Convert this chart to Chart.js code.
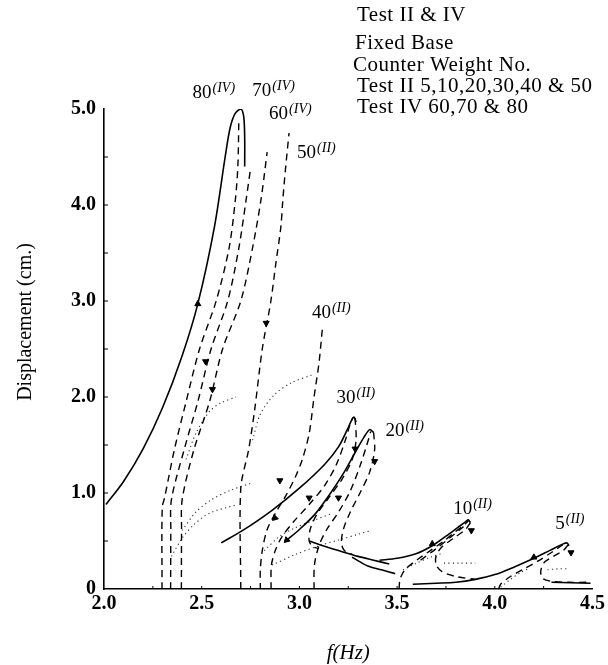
<!DOCTYPE html>
<html><head><meta charset="utf-8">
<script src="https://cdn.jsdelivr.net/npm/chart.js@4/dist/chart.umd.min.js"></script>
<style>html,body{margin:0;padding:0;background:#fff}#wrap{width:608px;height:665px;position:relative}</style>
</head><body><div id="wrap"><canvas id="c" width="608" height="665"></canvas></div>
<script>
// ---- axis ticks ----
const xTicks = [2.0, 2.5, 3.0, 3.5, 4.0, 4.5];
const yTicks = [0, 1, 2, 3, 4, 5];

// ---- solid curves (increasing-frequency response) [f, displacement] ----
const s80  = [[2.01,0.88],[2.1,1.12],[2.2,1.46],[2.3,1.89],[2.4,2.43],[2.48,2.97],[2.565,3.77],[2.62,4.5],[2.645,4.8],[2.67,4.95],[2.70,5.0],[2.715,4.92],[2.72,4.7],[2.72,4.4]];
const s30  = [[2.60,0.48],[2.71,0.61],[2.86,0.82],[3.0,1.05],[3.13,1.30],[3.2,1.48],[3.245,1.66],[3.27,1.77],[3.28,1.79],[3.29,1.74]];
const s20  = [[2.93,0.50],[3.0,0.62],[3.08,0.78],[3.16,1.0],[3.23,1.22],[3.29,1.44],[3.33,1.58],[3.36,1.66],[3.38,1.63]];
const sl30 = [[3.05,0.50],[3.12,0.45],[3.2,0.40],[3.3,0.34],[3.38,0.30],[3.46,0.26]];
const sl20 = [[3.27,0.33],[3.35,0.24],[3.42,0.20],[3.49,0.16]];
const s10  = [[3.41,0.30],[3.50,0.32],[3.60,0.37],[3.68,0.45],[3.75,0.55],[3.81,0.64],[3.85,0.70],[3.865,0.72],[3.875,0.69]];
const s5   = [[3.58,0.05],[3.7,0.06],[3.8,0.07],[3.9,0.10],[4.0,0.15],[4.1,0.23],[4.2,0.32],[4.28,0.40],[4.35,0.47],[4.37,0.48],[4.38,0.45]];
const sl5  = [[4.29,0.07],[4.49,0.06]];

// ---- dashed curves (jump / decreasing-frequency branches) ----
const d80  = [[2.297,0],[2.298,0.85],[2.31,0.95],[2.36,1.45],[2.42,1.95],[2.489,2.5],[2.574,3.0],[2.64,3.55],[2.672,4.05],[2.685,4.4],[2.69,4.88]];
const d70  = [[2.341,0],[2.342,0.6],[2.345,0.93],[2.41,1.45],[2.48,1.95],[2.548,2.5],[2.633,3.0],[2.69,3.55],[2.727,4.05],[2.75,4.38]];
const d60  = [[2.396,0],[2.397,0.6],[2.40,0.93],[2.46,1.45],[2.54,1.95],[2.607,2.5],[2.70,3.0],[2.76,3.55],[2.803,4.05],[2.835,4.55]];
const d50  = [[2.70,0],[2.70,1.05],[2.74,1.45],[2.77,1.85],[2.81,2.5],[2.854,3.0],[2.88,3.4],[2.905,3.77],[2.915,4.05],[2.93,4.4],[2.947,4.75]];
const d40  = [[3.117,2.70],[3.10,2.35],[3.075,2.0],[3.05,1.62],[3.015,1.35],[2.98,1.17],[2.93,0.97],[2.88,0.80],[2.835,0.62],[2.81,0.40],[2.80,0.2],[2.80,0]];
const d30  = [[2.855,0],[2.857,0.25],[2.88,0.42],[2.913,0.55],[2.97,0.70],[3.05,0.88],[3.13,1.08],[3.19,1.30],[3.235,1.55],[3.26,1.72],[3.275,1.79]];
const d30b = [[3.285,1.78],[3.29,1.55],[3.27,1.35],[3.22,1.15],[3.15,0.95],[3.09,0.78],[3.055,0.62],[3.05,0.50],[3.07,0.44],[3.1,0.42]];
const d20  = [[3.075,0],[3.077,0.25],[3.10,0.45],[3.14,0.62],[3.2,0.80],[3.26,1.02],[3.31,1.28],[3.345,1.50],[3.365,1.64]];
const d20b = [[3.38,1.63],[3.385,1.45],[3.36,1.22],[3.31,1.00],[3.26,0.80],[3.225,0.62],[3.215,0.48],[3.23,0.40],[3.27,0.36]];
const d10  = [[3.51,0],[3.515,0.1],[3.54,0.2],[3.6,0.3],[3.67,0.4],[3.74,0.5],[3.8,0.6],[3.845,0.67],[3.865,0.71]];
const d10b = [[3.875,0.69],[3.85,0.62],[3.79,0.53],[3.73,0.44],[3.70,0.35],[3.70,0.25],[3.73,0.18],[3.80,0.13],[3.90,0.10]];
const d10c = [[3.62,0.30],[3.7,0.42],[3.78,0.55],[3.84,0.65]];
const d5   = [[4.02,0],[4.03,0.05],[4.08,0.13],[4.15,0.21],[4.22,0.29],[4.29,0.38],[4.34,0.45],[4.36,0.48]];
const d5b  = [[4.375,0.46],[4.35,0.40],[4.30,0.34],[4.25,0.27],[4.235,0.18],[4.245,0.11],[4.29,0.08],[4.38,0.07],[4.49,0.07]];

// ---- dotted curves ----
const t1 = [[2.345,0.34],[2.40,0.53],[2.46,0.67],[2.54,0.79],[2.675,0.875]];
const t2 = [[2.40,0.61],[2.47,0.80],[2.55,0.93],[2.65,1.03],[2.75,1.10]];
const t3 = [[2.42,1.35],[2.47,1.62],[2.54,1.85],[2.60,1.94],[2.675,2.0]];
const t4 = [[2.76,1.55],[2.80,1.82],[2.87,2.02],[2.96,2.15],[3.066,2.23]];
const t5 = [[2.82,0.40],[2.90,0.55],[2.98,0.64],[3.08,0.72],[3.17,0.79]];
const t6 = [[2.86,0.25],[2.98,0.36],[3.1,0.45],[3.2,0.51],[3.3,0.57],[3.37,0.61]];
const t7 = [[3.53,0.20],[3.60,0.27],[3.67,0.33],[3.73,0.37]];
const t8 = [[3.74,0.27],[3.82,0.27],[3.90,0.27]];
const t9 = [[4.03,0.02],[4.08,0.10],[4.13,0.17],[4.18,0.22]];
const t10 = [[4.27,0.20],[4.32,0.21],[4.38,0.21]];

// ---- arrow heads [f, displacement, direction deg] ----
const arrowsX   = [2.48, 3.68, 4.20, 2.52, 2.555, 2.83, 2.90, 3.05, 3.20, 3.285, 3.385, 3.88, 4.39, 2.875, 2.935];
const arrowsY   = [2.97, 0.47, 0.33, 2.37, 2.08, 2.77, 1.13, 0.95, 0.95, 1.46, 1.33, 0.61, 0.38, 0.74, 0.51];
const arrowsDir = [0, 0, 0, 180, 180, 180, 180, 180, 180, 180, 180, 180, 180, 225, 225];

// ---- curve labels ----
const labelNums = ['80','70','60','50','40','30','20','10','5'];
const labelSups = ['(IV)','(IV)','(IV)','(II)','(II)','(II)','(II)','(II)','(II)'];
const labelX    = [2.453, 2.759, 2.845, 2.988, 3.064, 3.19, 3.44, 3.787, 4.31];
const labelY    = [5.11, 5.14, 4.90, 4.49, 2.82, 1.94, 1.59, 0.78, 0.625];

const noteLines = ['Test II & IV','Fixed Base','Counter Weight No.','Test II 5,10,20,30,40 & 50','Test IV 60,70 & 80'];

// ---- build datasets ----
const pts = a => a.map(p => ({x:p[0], y:p[1]}));
const datasets = [];
[s80,s30,s20,sl30,sl20,s10,s5,sl5].forEach(c => datasets.push({data:pts(c), borderColor:'#000', borderWidth:1.6, tension:0.3, pointRadius:0, fill:false}));
[d80,d70,d60,d50,d40,d30,d30b,d20,d20b,d10,d10b,d10c,d5,d5b].forEach(c => datasets.push({data:pts(c), borderColor:'#000', borderWidth:1.4, borderDash:[7,5], tension:0.3, pointRadius:0, fill:false}));
[t1,t2,t3,t4,t5,t6,t7,t8,t9,t10].forEach(c => datasets.push({data:pts(c), borderColor:'#333', borderWidth:1.1, borderDash:[1.2,3.2], tension:0.3, pointRadius:0, fill:false}));
datasets.push({type:'scatter', data:arrowsX.map((x,i)=>({x:x, y:arrowsY[i]})), showLine:false, pointStyle:'triangle', pointRadius:3.5, pointRotation:arrowsDir, backgroundColor:'#000', borderColor:'#000', borderWidth:1});

const SERIF = '"Liberation Serif", "Times New Roman", serif';

const deco = {
  id:'deco',
  afterDraw(chart){
    const ctx = chart.ctx, xs = chart.scales.x, ys = chart.scales.y, a = chart.chartArea;
    ctx.save();
    ctx.strokeStyle = '#000'; ctx.lineWidth = 1;
    // small inward ticks
    for (let v = 0.5; v < 5; v += 0.5) { const py = ys.getPixelForValue(v); ctx.beginPath(); ctx.moveTo(a.left, py); ctx.lineTo(a.left+4, py); ctx.stroke(); }
    for (let v = 2.25; v < 4.5; v += 0.25) { const px = xs.getPixelForValue(v); ctx.beginPath(); ctx.moveTo(px, a.bottom); ctx.lineTo(px, a.bottom-3); ctx.stroke(); }
    ctx.fillStyle = '#000';
    // curve labels
    labelNums.forEach((n, i) => {
      const px = xs.getPixelForValue(labelX[i]), py = ys.getPixelForValue(labelY[i]);
      ctx.font = '19px ' + SERIF; ctx.textAlign = 'left'; ctx.textBaseline = 'alphabetic';
      ctx.fillText(n, px, py);
      const w = ctx.measureText(n).width;
      ctx.font = 'italic 14px ' + SERIF;
      ctx.fillText(labelSups[i], px + w + 1, py - 6);
    });
    // note block
    ctx.font = '21px ' + SERIF; ctx.textAlign = 'left'; ctx.textBaseline = 'alphabetic';
    try { ctx.letterSpacing = '0.5px'; } catch(e) {}
    const base = [21, 49, 71, 92, 113];
    const lx = [357, 355, 353, 357, 357];
    noteLines.forEach((t, i) => ctx.fillText(t, lx[i], base[i]));
    try { ctx.letterSpacing = '0px'; } catch(e) {}
    // axis titles
    ctx.font = '20px ' + SERIF; ctx.textAlign = 'center'; ctx.textBaseline = 'middle';
    ctx.save(); ctx.translate(26, 322); ctx.rotate(-Math.PI/2); ctx.fillText('Displacement (cm.)', 0, 0); ctx.restore();
    ctx.font = 'italic 21px ' + SERIF;
    ctx.fillText('f(Hz)', (a.left + a.right)/2, 653);
    ctx.restore();
  }
};

new Chart(document.getElementById('c'), {
  type:'line',
  data:{datasets},
  options:{
    responsive:false, animation:false, devicePixelRatio:1,
    layout:{padding:{top:109, right:13, left:0, bottom:0}},
    plugins:{legend:{display:false}, tooltip:{enabled:false}},
    scales:{
      x:{type:'linear', min:2, max:4.5,
         afterBuildTicks: s => { s.ticks = xTicks.map(v => ({value:v})); },
         afterFit: s => { s.height = 76; },
         ticks:{color:'#000', padding:3, maxRotation:0, autoSkip:false, font:{family:SERIF, size:20, weight:'bold'}, callback: v => v.toFixed(1)},
         grid:{display:false, drawTicks:false},
         border:{display:true, color:'#000', width:1.6}},
      y:{type:'linear', min:0, max:5,
         afterBuildTicks: s => { s.ticks = yTicks.map(v => ({value:v})); },
         afterFit: s => { s.width = 104; },
         ticks:{color:'#000', padding:8, autoSkip:false, font:{family:SERIF, size:20, weight:'bold'}, callback: v => v === 0 ? '0' : v.toFixed(1)},
         grid:{display:false, drawTicks:false},
         border:{display:true, color:'#000', width:1.6}}
    }
  },
  plugins:[deco]
});
</script>
</body></html>
